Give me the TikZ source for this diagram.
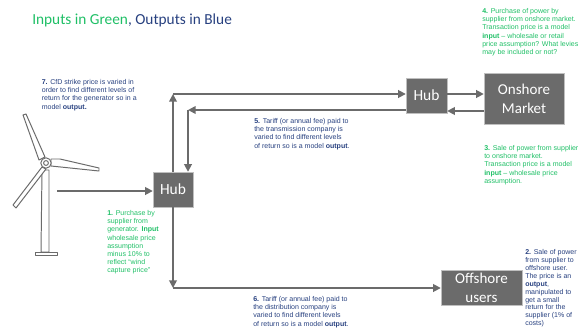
\documentclass[tikz,border=0pt]{standalone}
\usepackage{fontspec}
\setmainfont{Liberation Sans}
\newfontfamily\carlito{Carlito}
\usetikzlibrary{arrows.meta}
\definecolor{inGreen}{HTML}{1FBF66}
\definecolor{outBlue}{HTML}{27407F}
\definecolor{boxGrey}{HTML}{6B6B6B}
\begin{document}
\begin{tikzpicture}
            [x=0.025cm, y=-0.025cm,
            myBox/.style={rectangle,
                        fill=boxGrey,
                        draw=black!25,
                        line width=0.3pt,
                        text=white,
                        align=center,
                        inner sep=0pt,
                        font=\carlito\fontsize{10.7}{13.3}\selectfont},
            myNote/.style={anchor=north west,
                        align=left,
                        inner sep=0pt,
                        font=\fontsize{5}{5.85}\selectfont},
            myFlow/.style={draw=boxGrey,
                        line width=1.2pt,
                        -{Triangle[length=1.9mm,width=1.9mm]}},
            myTurbine/.style={draw=boxGrey, fill=white, line width=0.7pt, line join=round}]

            \useasboundingbox (0,0) rectangle (584,328);

            \node[myBox, minimum width=1cm, minimum height=0.875cm, font=\carlito\fontsize{11}{12}\selectfont] (hubWind) at (173,189.5) {Hub};
            \node[myBox, minimum width=1.025cm, minimum height=0.875cm, font=\carlito\fontsize{11}{12}\selectfont] (hubLand) at (426.5,95.5) {Hub};
            \node[myBox, minimum width=2cm, minimum height=1.275cm] (onshoreMarket) at (524,98.5) {Onshore\\Market};
            \node[myBox, minimum width=2.025cm, minimum height=0.875cm] (offshoreUsers) at (481.5,287.5) {Offshore\\users};

            \coordinate (turbineEnd) at (57,191);
            \coordinate (upperCorner) at (173,94);
            \coordinate (lowerCorner) at (188,110);
            \coordinate (offshoreCorner) at (173,288);

            % turbine
            \draw[myTurbine] (42,170) -- (41,252) -- (49,252) -- (49,170) -- cycle;
            \draw[myTurbine] (35,252) rectangle (57,255);
            \draw[myTurbine] (39,160) -- (23,115) -- (26,114) -- (45,157) -- cycle;
            \draw[myTurbine] (51,159) -- (60,159) -- (99,168) -- (99,171) -- (51,166) -- cycle;
            \draw[myTurbine] (42,167) -- (13,205) -- (16,208) -- (46,169) -- cycle;
            \draw[myTurbine] (46,163) circle [radius=0.13cm];
            \draw[myTurbine] (46,163) circle [radius=0.06cm];

            \draw[myFlow] (turbineEnd) to (turbineEnd -| hubWind.west);
            \draw[myFlow] (hubWind.north) to (upperCorner);
            \draw[myFlow] (upperCorner) to (upperCorner -| hubLand.west);
            \draw[myFlow] (lowerCorner -| hubLand.west) to (lowerCorner);
            \draw[myFlow] (lowerCorner) to (lowerCorner |- hubWind.north);
            \draw[myFlow] (hubWind.south) to (offshoreCorner);
            \draw[myFlow] (offshoreCorner) to (offshoreCorner -| offshoreUsers.west);
            \draw[myFlow] (hubLand.east |- upperCorner) to (onshoreMarket.west |- upperCorner);
            \draw[myFlow] (onshoreMarket.west |- 0,111) to (hubLand.east |- 0,111);

            \node[anchor=west, inner sep=0pt, font=\carlito\fontsize{10.9}{14}\selectfont] (titleText) at (32,20.5) {\textcolor{inGreen}{Inputs in Green}\textcolor{outBlue}{, Outputs in Blue}};

            \node[myNote, text=outBlue] (noteSeven) at (41.5,79) {\textbf{7.} CfD strike price is varied in\\order to find different levels of\\return for the generator so in a\\model \textbf{output.}};
            \node[myNote, text=outBlue] (noteFive) at (254,118) {\textbf{5.} Tariff (or annual fee) paid to\\the transmission company is\\varied to find different levels\\of return so is a model \textbf{output}.};
            \node[myNote, text=outBlue] (noteSix) at (253,296) {\textbf{6.} Tariff (or annual fee) paid to\\the distribution company is\\varied to find different levels\\of return so is a model \textbf{output}.};
            \node[myNote, text=outBlue, font=\fontsize{5}{5.65}\selectfont] (noteTwo) at (525,249) {\textbf{2.} Sale of power\\from supplier to\\offshore user.\\The price is an\\\textbf{output},\\manipulated to\\get a small\\return for the\\supplier (1\% of\\costs)};
            \node[myNote, text=inGreen] (noteFour) at (482,8) {\textbf{4.} Purchase of power by\\supplier from onshore market.\\Transaction price is a model\\\textbf{input} -- wholesale or retail\\price assumption? What levies\\may be included or not?};
            \node[myNote, text=inGreen] (noteThree) at (484,145) {\textbf{3.} Sale of power from supplier\\to onshore market.\\Transaction price is a model\\\textbf{input} -- wholesale price\\assumption.};
            \node[myNote, text=inGreen] (noteOne) at (107,210) {\textbf{1.} Purchase by\\supplier from\\generator. \textbf{Input}\\wholesale price\\assumption\\minus 10\% to\\reflect ``wind\\capture price''};
        \end{tikzpicture}
\end{document}
